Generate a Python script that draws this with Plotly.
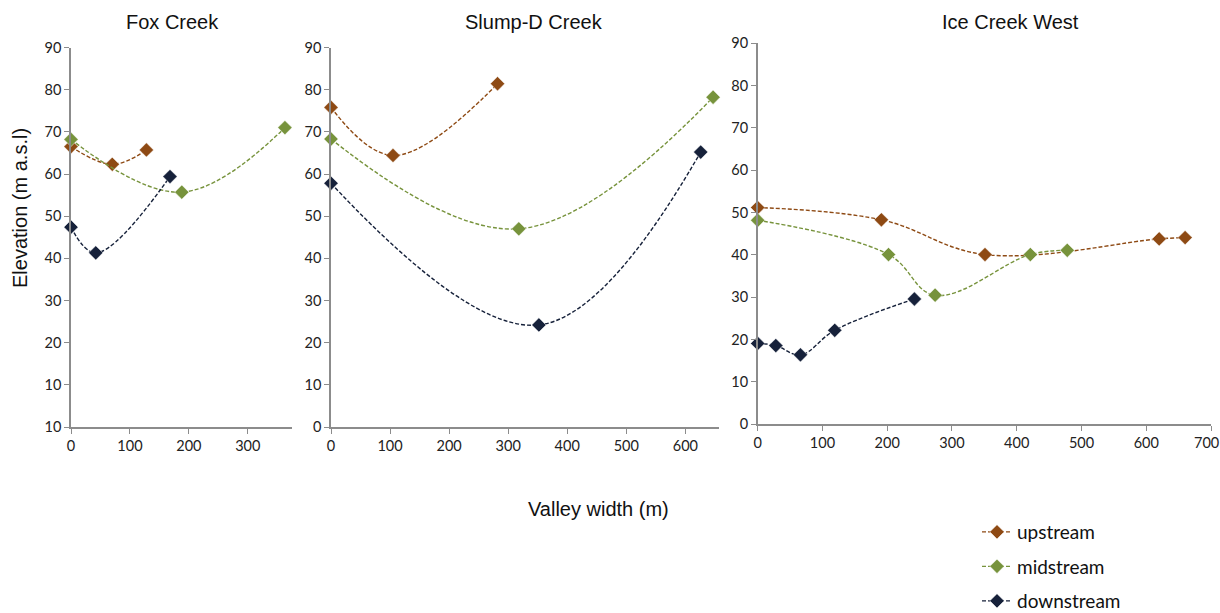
import plotly.graph_objects as go

W, H = 1220, 613

panels = ["Fox Creek", "Slump-D Creek", "Ice Creek West"]
series_names = ["upstream", "midstream", "downstream"]

# Fox Creek
fox_up_x = [0, 70, 128]
fox_up_y = [66.5, 62.3, 65.7]
fox_mid_x = [0, 188, 363]
fox_mid_y = [68.2, 55.7, 71.0]
fox_down_x = [0, 42, 168]
fox_down_y = [47.4, 41.3, 59.4]

# Slump-D Creek
slump_up_x = [0, 105, 282]
slump_up_y = [75.8, 64.4, 81.4]
slump_mid_x = [0, 318, 647]
slump_mid_y = [68.3, 47.0, 78.2]
slump_down_x = [0, 352, 626]
slump_down_y = [57.8, 24.2, 65.2]

# Ice Creek West
ice_up_x = [0, 191, 351, 620, 660]
ice_up_y = [51.2, 48.3, 40.1, 43.8, 44.1]
ice_mid_x = [0, 202, 274, 421, 478]
ice_mid_y = [48.2, 40.1, 30.5, 40.1, 41.1]
ice_down_x = [0, 28, 66, 119, 242]
ice_down_y = [19.1, 18.6, 16.4, 22.2, 29.6]

y_tickvals = [0, 10, 20, 30, 40, 50, 60, 70, 80, 90]
fox_y_ticktext = ["10", "10", "20", "30", "40", "50", "60", "70", "80", "90"]
y_ticktext = ["0", "10", "20", "30", "40", "50", "60", "70", "80", "90"]
fox_x_ticks = [0, 100, 200, 300]
slump_x_ticks = [0, 100, 200, 300, 400, 500, 600]
ice_x_ticks = [0, 100, 200, 300, 400, 500, 600, 700]
ice_x_ticktext = ["0", "100", "200", "300", "400", "500", "600", "700"]

colors = {"upstream": "#8E4A14", "midstream": "#77933C", "downstream": "#16213A"}

data = [
    [(fox_up_x, fox_up_y), (fox_mid_x, fox_mid_y), (fox_down_x, fox_down_y)],
    [(slump_up_x, slump_up_y), (slump_mid_x, slump_mid_y), (slump_down_x, slump_down_y)],
    [(ice_up_x, ice_up_y), (ice_mid_x, ice_mid_y), (ice_down_x, ice_down_y)],
]

def px_x(p):
    return p / W

def px_y(p):
    return 1 - p / H

x_domains = [[px_x(71), px_x(292)], [px_x(331), px_x(719)], [px_x(757.7), px_x(1211)]]
y_domains = [[px_y(427), px_y(47.5)], [px_y(427), px_y(47.5)], [px_y(424.3), px_y(43.3)]]
x_ranges = [[0, 375], [0, 657], [0, 700]]
x_ticks = [fox_x_ticks, slump_x_ticks, ice_x_ticks]
# last Ice label is drawn separately (nudged left so it stays inside the page)
x_texts = [[str(v) for v in fox_x_ticks], [str(v) for v in slump_x_ticks],
           ice_x_ticktext[:-1] + [""]]
y_texts = [fox_y_ticktext, y_ticktext, y_ticktext]

fig = go.Figure()

for i in range(3):
    xa = "x" if i == 0 else f"x{i+1}"
    ya = "y" if i == 0 else f"y{i+1}"
    for j, name in enumerate(series_names):
        xs, ys = data[i][j]
        fig.add_trace(go.Scatter(
            x=xs, y=ys, xaxis=xa, yaxis=ya,
            mode="lines+markers", name=name,
            legendgroup=name, showlegend=(i == 0),
            line=dict(color=colors[name], width=1.4, dash="4px,2px", shape="spline", smoothing=1.1),
            marker=dict(symbol="diamond", size=11, color=colors[name],
                        line=dict(width=0.5, color="white")),
            cliponaxis=False,
        ))

axis_color = "#8C8C8C"
tick_font = dict(family="Lato, Open Sans, sans-serif", size=14.5, color="#222222")
layout = dict(
    width=W, height=H,
    margin=dict(l=0, r=0, t=0, b=0, autoexpand=False),
    paper_bgcolor="white", plot_bgcolor="white",
    showlegend=True,
    legend=dict(
        x=px_x(977), y=px_y(513), xanchor="left", yanchor="top",
        font=dict(family="Lato, Open Sans, sans-serif", size=19, color="#111111"),
        tracegroupgap=6.8, itemwidth=30, bgcolor="rgba(0,0,0,0)",
    ),
)
for i in range(3):
    xk = "xaxis" if i == 0 else f"xaxis{i+1}"
    yk = "yaxis" if i == 0 else f"yaxis{i+1}"
    layout[xk] = dict(
        domain=x_domains[i], range=x_ranges[i], anchor="y" if i == 0 else f"y{i+1}",
        tickvals=x_ticks[i], ticktext=x_texts[i], ticks="outside", ticklen=5, tickcolor=axis_color,
        showline=True, linecolor=axis_color, linewidth=1.5, showgrid=False, zeroline=False,
        tickfont=tick_font, automargin=False,
    )
    layout[yk] = dict(
        domain=y_domains[i], range=[0, 90], anchor="x" if i == 0 else f"x{i+1}",
        tickvals=y_tickvals, ticktext=y_texts[i], ticks="outside", ticklen=5, tickcolor=axis_color,
        showline=True, linecolor=axis_color, linewidth=1.5, showgrid=False, zeroline=False,
        tickfont=tick_font, automargin=False,
    )
fig.update_layout(**layout)

# last Ice Creek x tick label, placed at its axis value and nudged left
fig.add_annotation(text=ice_x_ticktext[-1], x=ice_x_ticks[-1], xref="x3", y=px_y(442), yref="paper",
                   showarrow=False, font=tick_font, xanchor="center", yanchor="middle", xshift=-5)

title_font = dict(family="Liberation Sans, Arial, sans-serif", size=20, color="#111111")
title_pos = [(172, 22), (534, 22), (1010, 22)]
for t, (tx, ty) in zip(panels, title_pos):
    fig.add_annotation(text=t, x=px_x(tx), y=px_y(ty), xref="paper", yref="paper",
                       showarrow=False, font=title_font, xanchor="center", yanchor="middle")

fig.add_annotation(text="Valley width (m)", x=px_x(598), y=px_y(509), xref="paper", yref="paper",
                   showarrow=False, font=title_font, xanchor="center", yanchor="middle")
fig.add_annotation(text="Elevation (m a.s.l)", x=px_x(20), y=px_y(208), xref="paper", yref="paper",
                   showarrow=False, font=title_font, textangle=-90, xanchor="center", yanchor="middle")

fig.write_html(
    "out.html",
    config={"displayModeBar": False},
    post_script="document.body.style.margin='0';document.body.style.overflow='hidden';",
)
